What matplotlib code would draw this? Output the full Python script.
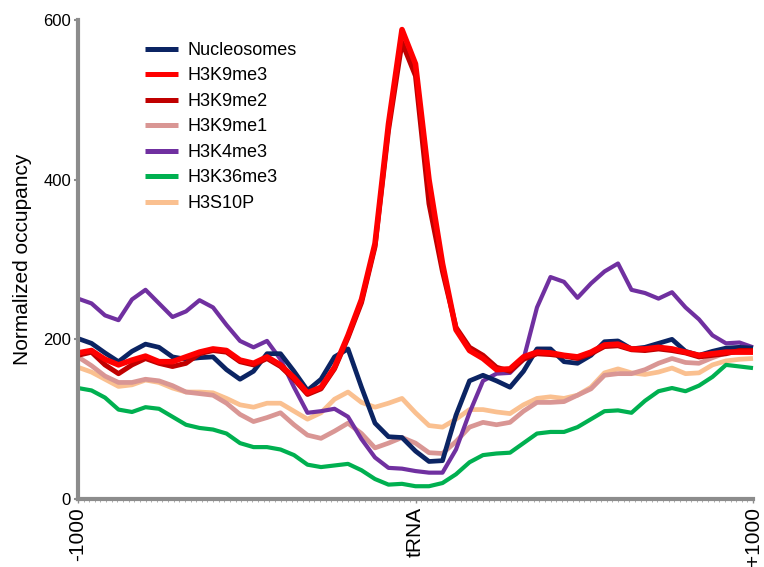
import numpy as np
import matplotlib
matplotlib.use("Agg")
import matplotlib.pyplot as plt

plt.rcParams['font.family'] = ['Liberation Sans', 'DejaVu Sans']

# position relative to tRNA (bp), one reading every 40 bp
pos = np.arange(-1000, 1001, 40)

nucleosomes = [201, 195, 183, 172, 185, 194, 190, 178, 175, 177,
               178, 162, 150, 160, 182, 182, 160, 136, 150, 178,
               188, 140, 95, 78, 77, 60, 47, 48, 105, 148,
               155, 148, 140, 160, 188, 188, 172, 170, 180, 197,
               198, 188, 190, 195, 200, 185, 180, 185, 189, 190, 189]
h3k9me3 = [183, 186, 175, 168, 174, 179, 172, 172, 178, 184,
           188, 186, 174, 170, 178, 168, 152, 133, 140, 165,
           205, 250, 320, 470, 588, 545, 400, 295, 212, 186,
           176, 162, 163, 178, 184, 183, 180, 178, 184, 193,
           194, 188, 188, 190, 188, 184, 180, 182, 184, 184, 184]
h3k9me2 = [180, 184, 168, 157, 168, 176, 170, 166, 170, 182,
           186, 184, 172, 168, 176, 166, 150, 131, 138, 163,
           202, 246, 316, 462, 572, 530, 370, 285, 215, 190,
           180, 165, 160, 175, 182, 181, 179, 176, 182, 191,
           192, 187, 186, 188, 186, 183, 178, 180, 182, 186, 186]
h3k9me1 = [178, 167, 154, 146, 146, 150, 148, 142, 134, 132,
           130, 120, 106, 97, 102, 108, 93, 80, 76, 85,
           95, 82, 64, 70, 77, 70, 58, 57, 72, 90,
           96, 93, 96, 110, 121, 121, 122, 130, 138, 155,
           157, 157, 162, 170, 176, 171, 170, 177, 183, 184, 184]
h3k4me3 = [251, 245, 230, 224, 250, 262, 245, 228, 235, 249,
           240, 218, 198, 190, 198, 175, 140, 108, 110, 113,
           103, 75, 52, 39, 38, 35, 33, 33, 62, 108,
           148, 157, 158, 175, 240, 278, 272, 252, 270, 285,
           295, 262, 258, 251, 259, 240, 225, 205, 195, 196, 190]
h3k36me3 = [139, 136, 127, 112, 109, 115, 113, 103, 93, 89,
            87, 82, 70, 65, 65, 62, 55, 43, 40, 42,
            44, 36, 25, 18, 19, 16, 16, 20, 31, 46,
            55, 57, 58, 70, 82, 84, 84, 90, 100, 110,
            111, 108, 123, 135, 139, 135, 142, 153, 168, 166, 164]
h3s10p = [165, 159, 150, 141, 143, 149, 146, 139, 134, 134,
          133, 126, 118, 115, 120, 120, 110, 100, 108, 125,
          134, 121, 115, 120, 126, 108, 92, 90, 100, 112,
          112, 109, 107, 118, 126, 128, 126, 130, 140, 158,
          163, 158, 156, 159, 164, 157, 158, 168, 173, 175, 176]

labels = ["Nucleosomes", "H3K9me3", "H3K9me2", "H3K9me1",
          "H3K4me3", "H3K36me3", "H3S10P"]
colors = ["#0b2463", "#ff0000", "#c00000", "#d99694",
          "#7030a0", "#00b050", "#fac090"]
series = [nucleosomes, h3k9me3, h3k9me2, h3k9me1, h3k4me3, h3k36me3, h3s10p]
widths = [3.4, 4.0, 3.6, 3.4, 3.0, 3.0, 3.4]

fig = plt.figure(figsize=(7.64, 5.67), dpi=100)
ax = fig.add_axes([78 / 764, 1 - 499 / 567, 675 / 764, 479 / 567])

# draw order: back to front
order = [6, 3, 5, 4, 0, 2, 1]
handles = {}
for i in order:
    line, = ax.plot(pos, series[i], color=colors[i], lw=widths[i],
                    label=labels[i], solid_joinstyle='round',
                    solid_capstyle='butt', clip_on=False)
    handles[i] = line

ax.set_xlim(-1000, 1000)
ax.set_ylim(0, 600)

for s in ['top', 'right']:
    ax.spines[s].set_visible(False)
for s in ['left', 'bottom']:
    ax.spines[s].set_color('#8c8c8c')
    ax.spines[s].set_linewidth(3)

ax.set_yticks([0, 200, 400, 600])
ax.tick_params(axis='y', length=3, width=1.5, color='#8c8c8c',
               labelsize=12, pad=2)
ax.set_xticks([-1000, 0, 1000])
ax.set_xticklabels(['-1000', 'tRNA', '+1000'], rotation=90)
ax.set_xticks(np.linspace(-1000, 1000, 121), minor=True)
ax.tick_params(axis='x', which='major', length=3, width=1, color='#8c8c8c',
               labelsize=15, pad=3)
ax.tick_params(axis='x', which='minor', length=2, width=0.6, color='#a0a0a0')

ax.set_ylabel('Normalized occupancy', fontsize=15, labelpad=8)

leg = ax.legend([handles[i] for i in range(7)], labels, frameon=False,
                loc='upper left', bbox_to_anchor=(145 / 764, 1 - 42 / 567),
                bbox_transform=fig.transFigure, fontsize=13,
                handlelength=1.8, handletextpad=0.55, labelspacing=0.47,
                borderaxespad=0, borderpad=0)
for l in leg.get_lines():
    l.set_linewidth(3.6)

fig.savefig('out.png', dpi=100)
